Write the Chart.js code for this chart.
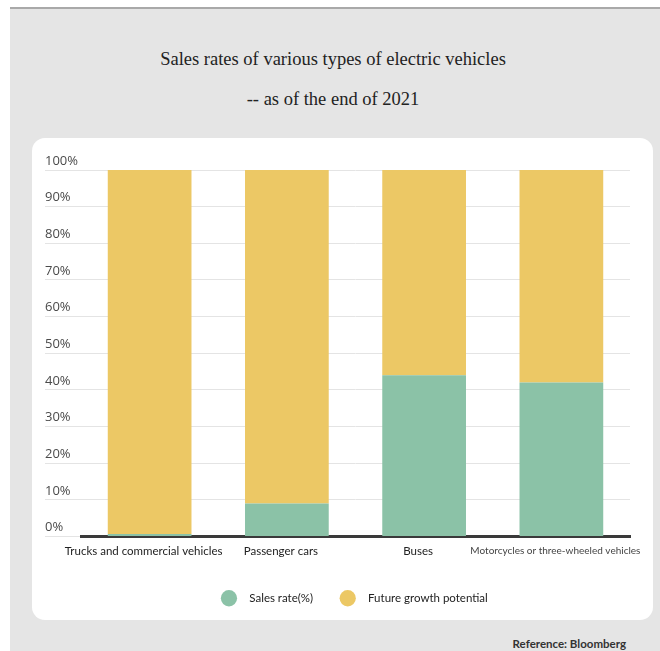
<!DOCTYPE html>
<html>
<head>
<meta charset="utf-8">
<script src="https://cdn.jsdelivr.net/npm/chart.js@4/dist/chart.umd.min.js"></script>
<style>
  html, body { margin: 0; padding: 0; background: #ffffff; }
  #panel { position: absolute; left: 10px; top: 7px; width: 650px; height: 644px; background: #e5e5e5; border-top: 2px solid #a9a9a9; box-sizing: border-box; }
  .title { position: absolute; left: 0; width: 666px; text-align: center; font-family: "Liberation Serif", "Times New Roman", serif; font-size: 18.5px; color: #222; }
  #card { position: absolute; left: 32px; top: 138px; width: 621px; height: 482px; background: #ffffff; border-radius: 13px; }
  #card canvas { position: absolute; left: 0; top: 0; }
  #ref { position: absolute; right: 34px; top: 637px; font-family: Lato, sans-serif; font-weight: bold; font-size: 11.5px; color: #333; }
</style>
</head>
<body>
<div id="panel"></div>
<div class="title" style="top:49px">Sales rates of various types of electric vehicles</div>
<div class="title" style="top:89px">-- as of the end of 2021</div>
<div id="card"><canvas id="c" width="621" height="482"></canvas></div>
<div id="ref">Reference: Bloomberg</div>
<script>
const categories = ["Trucks and commercial vehicles", "Passenger cars", "Buses", "Motorcycles or three-wheeled vehicles"];
const salesRate = [0.7, 9, 44, 42];
const futureGrowth = [99.3, 91, 56, 58];
const yTicks = [0, 10, 20, 30, 40, 50, 60, 70, 80, 90, 100];
const seriesNames = ["Sales rate(%)", "Future growth potential"];

const GREEN = "#8bc2a7";
const YELLOW = "#ecc865";

new Chart(document.getElementById("c"), {
  type: "bar",
  data: {
    labels: categories,
    datasets: [
      { label: seriesNames[0], data: salesRate, backgroundColor: GREEN, barPercentage: 0.61, categoryPercentage: 1 },
      { label: seriesNames[1], data: futureGrowth, backgroundColor: YELLOW, barPercentage: 0.61, categoryPercentage: 1 }
    ]
  },
  options: {
    responsive: false,
    animation: false,
    layout: { padding: { left: 13, right: 23, top: 32, bottom: 6 } },
    plugins: {
      title: { display: false },
      tooltip: { enabled: false },
      legend: {
        position: "bottom",
        fullSize: false,
        labels: {
          usePointStyle: true,
          pointStyle: "circle",
          padding: 20,
          color: "#222",
          font: { family: "Lato", size: 11.5 },
          generateLabels(chart) {
            return chart.data.datasets.map((ds, i) => ({
              text: "   " + ds.label + (i === 0 ? "   " : ""),
              fillStyle: ds.backgroundColor,
              strokeStyle: ds.backgroundColor,
              lineWidth: 0,
              pointStyle: "circle",
              datasetIndex: i,
              hidden: false,
              fontColor: "#222"
            }));
          }
        }
      }
    },
    scales: {
      x: {
        stacked: true,
        grid: { display: false, drawTicks: false },
        border: { display: true, color: "#3a3a3a", width: 3 },
        ticks: {
          autoSkip: false,
          maxRotation: 0,
          minRotation: 0,
          padding: 8,
          labelOffset: -6,
          color: (ctx) => ctx.index === 3 ? "#444" : "#222",
          font: (ctx) => ctx.index === 3 ? { family: "Lato", size: 10 } : { family: "Lato", size: 11.5 }
        },
        afterFit(scale) { scale.paddingLeft = 0; scale.paddingRight = 0; scale.height = 36; }
      },
      y: {
        stacked: true,
        min: 0,
        max: 100,
        afterBuildTicks(scale) { scale.ticks = yTicks.map(v => ({ value: v })); },
        grid: { color: "#e4e4e4", lineWidth: 1, tickLength: 36, drawTicks: true },
        border: { display: false },
        ticks: {
          crossAlign: "far",
          labelOffset: -9,
          color: "#4a4a4a",
          font: { family: "Open Sans", size: 13 },
          callback: (v) => v + "%"
        },
        afterFit(scale) { scale.width = 36; scale.paddingTop = 0; scale.paddingBottom = 0; }
      }
    }
  }
});
</script>
</body>
</html>
